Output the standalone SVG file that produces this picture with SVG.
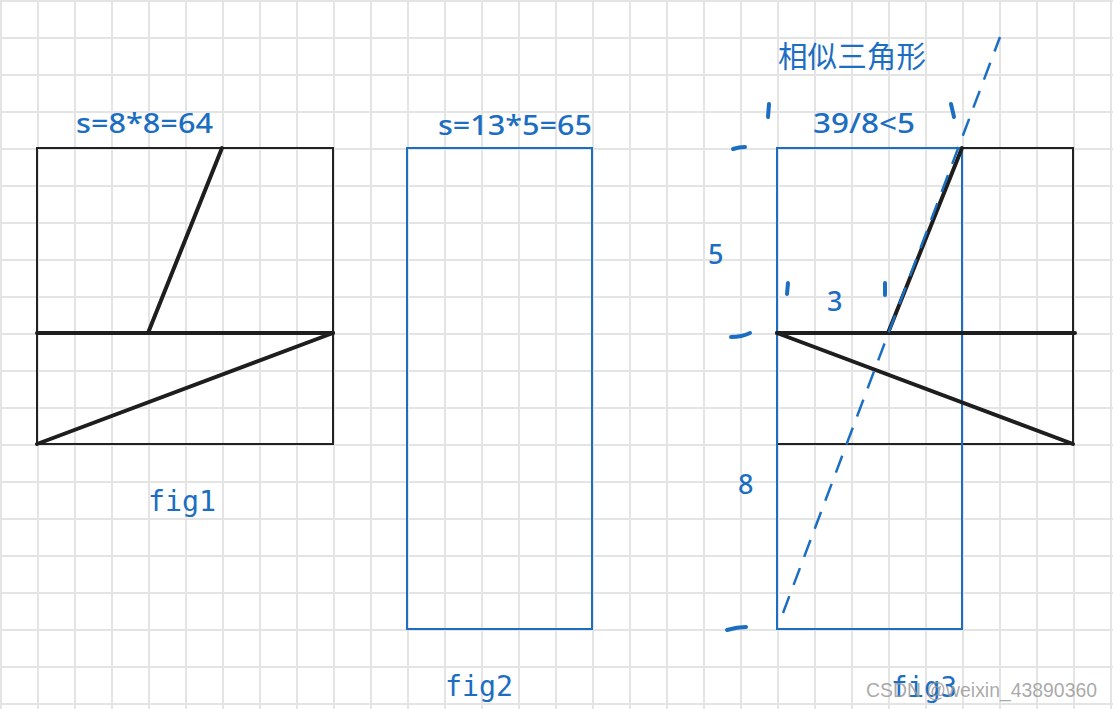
<svg xmlns="http://www.w3.org/2000/svg" width="1113" height="709" viewBox="0 0 1113 709">
<defs>
<pattern id="grid" x="0" y="0" width="37" height="37" patternUnits="userSpaceOnUse">
<path d="M1 0V37M0 1H37" stroke="#e4e4e4" stroke-width="2" fill="none"/>
</pattern>
</defs>
<style>
.thin{fill:none;stroke:#222;stroke-width:2}
.thick{fill:none;stroke:#1e1e1e;stroke-width:4;stroke-linecap:round}
.blue{fill:none;stroke:#1b6ec2;stroke-width:2}
.dash{fill:none;stroke:#1b6ec2;stroke-width:2.5;stroke-dasharray:18 12}
.tick{fill:none;stroke:#1b6ec2;stroke-width:4;stroke-linecap:round}
.lbl{font-family:"Noto Sans","Open Sans",sans-serif;font-size:27px;font-weight:500;fill:#1b6ec2}
.cjk{font-family:"Noto Sans CJK SC",sans-serif;font-size:30px;fill:#1b6ec2}
.mono{font-family:"DejaVu Sans Mono","Liberation Mono",monospace;font-size:28px;fill:#1b6ec2}
.wm{font-family:"Liberation Sans",Arial,sans-serif;font-size:21px;fill:#9a9a9a;fill-opacity:0.85}
</style>
<rect x="0" y="0" width="1113" height="709" fill="#fff"/>
<rect x="0" y="0" width="1113" height="709" fill="url(#grid)"/>
<g id="fig1">
<rect class="thin" x="37" y="148" width="296" height="296"/>
<line class="thick" x1="37" y1="333" x2="333" y2="333"/>
<line class="thick" x1="148" y1="333" x2="222" y2="148"/>
<line class="thick" x1="37" y1="444" x2="333" y2="333"/>
<text class="lbl" x="76" y="133" textLength="137" lengthAdjust="spacingAndGlyphs">s=8*8=64</text>
<text class="mono" x="148" y="511" textLength="68" lengthAdjust="spacingAndGlyphs">fig1</text>
</g>
<g id="fig2">
<rect class="blue" x="407" y="148" width="185" height="481"/>
<text class="lbl" x="438" y="135" textLength="154" lengthAdjust="spacingAndGlyphs">s=13*5=65</text>
<text class="mono" x="445" y="696" textLength="68" lengthAdjust="spacingAndGlyphs">fig2</text>
</g>
<g id="fig3">
<rect class="thin" x="777" y="148" width="296" height="296"/>
<rect class="blue" x="777" y="148" width="185" height="481"/>
<line class="thick" x1="777" y1="333" x2="1075" y2="333"/>
<line class="thick" x1="888" y1="333" x2="962" y2="148"/>
<line class="thick" x1="777" y1="333" x2="1073" y2="444"/>
<text class="cjk" x="778" y="67" textLength="148" lengthAdjust="spacingAndGlyphs">相似三角形</text>
<text class="lbl" x="813" y="133" textLength="102" lengthAdjust="spacingAndGlyphs">39/8&lt;5</text>
<text class="lbl" x="708" y="264">5</text>
<text class="lbl" x="827" y="311">3</text>
<text class="lbl" x="738" y="494">8</text>
<text class="mono" x="891" y="697" textLength="66" lengthAdjust="spacingAndGlyphs">fig3</text>
</g>
<g id="connectors">
<line class="dash" x1="783" y1="613" x2="1000" y2="37"/>
<path class="tick" d="M769 104L768 117"/>
<path class="tick" d="M951 104L954 117"/>
<path class="tick" d="M733 149Q739 147 745 147"/>
<path class="tick" d="M788 283L787 294"/>
<path class="tick" d="M885 283L885 295"/>
<path class="tick" d="M731 337Q742 337 750 333"/>
<path class="tick" d="M727 630Q737 627 746 627"/>
</g>
<text class="wm" x="866" y="697" textLength="231" lengthAdjust="spacingAndGlyphs">CSDN @weixin_43890360</text>
</svg>
